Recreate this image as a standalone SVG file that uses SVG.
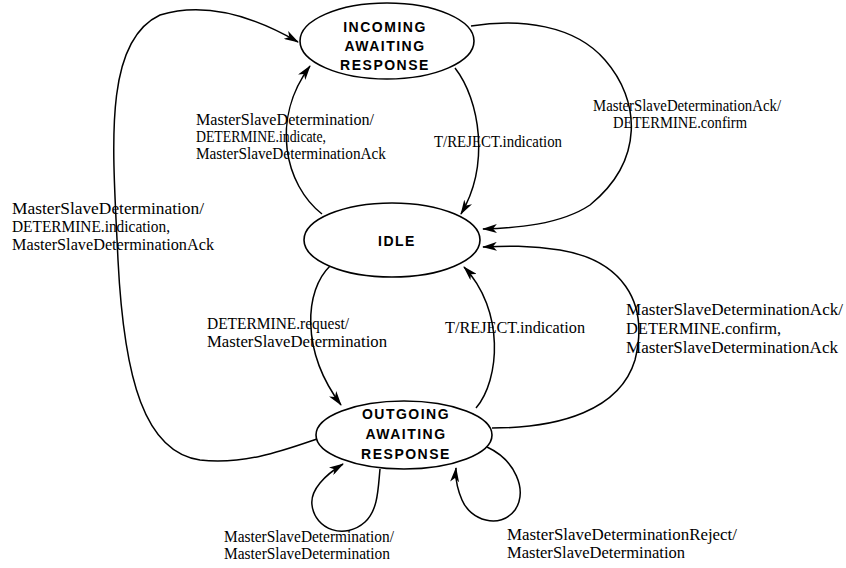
<svg xmlns="http://www.w3.org/2000/svg" width="846" height="568" viewBox="0 0 846 568">
  <defs>
    <marker id="arrow" viewBox="0 0 15 9" refX="14" refY="4.5" markerWidth="15" markerHeight="9" markerUnits="userSpaceOnUse" orient="auto">
      <path d="M0,0 L15,4.5 L0,9 L4,4.5 z" fill="#000"/>
    </marker>
    <style>
      .state { fill: #fff; stroke: #000; stroke-width: 1.6; }
      .sname { font-family: "Liberation Sans", Arial, sans-serif; font-size: 14px; font-weight: bold; letter-spacing: 1.5px; text-anchor: middle; fill: #000; }
      .edge { fill: none; stroke: #000; stroke-width: 1.5; marker-end: url(#arrow); }
      .lbl { font-family: "Liberation Serif", "Times New Roman", serif; font-size: 16px; fill: #000; }
    </style>
  </defs>

  <!-- transitions -->
  <g id="connectors">
    <!-- INCOMING -> IDLE : T/REJECT.indication -->
    <path class="edge" d="M455,68 C480,100 490,165 461,214"/>
    <!-- IDLE -> INCOMING -->
    <path class="edge" d="M322,214 C285,185 270,120 310,66"/>
    <!-- INCOMING -> IDLE : Ack / confirm -->
    <path class="edge" d="M471,26 C520,18 575,25 605,60 C640,100 645,160 590,205 C560,225 515,228 483,229"/>
    <!-- OUTGOING -> IDLE : Ack / confirm, Ack -->
    <path class="edge" d="M492,428 C560,428 620,410 635,360 C650,300 620,260 560,250 C530,245 505,246 483,247"/>
    <!-- IDLE -> OUTGOING : DETERMINE.request -->
    <path class="edge" d="M330,266 C305,290 300,350 341,405"/>
    <!-- OUTGOING -> IDLE : T/REJECT.indication -->
    <path class="edge" d="M476,408 C500,380 505,310 464,267"/>
    <!-- OUTGOING -> INCOMING : outer loop -->
    <path class="edge" d="M317,439 C285,450 245,465 200,460 C145,452 124,380 118,260 C113,150 102,42 160,15 C210,0 260,20 298,42"/>
    <!-- OUTGOING self loop (left) -->
    <path class="edge" d="M380,469 C378,490 378,510 365,522 C345,540 315,530 312,505 C310,490 325,475 343,464"/>
    <!-- OUTGOING self loop (right) -->
    <path class="edge" d="M487,447 C515,460 528,490 515,510 C500,530 470,520 462,500 C457,488 455,478 456,468"/>
  </g>

  <g id="incoming">
    <ellipse class="state" cx="387" cy="41" rx="87" ry="38"/>
    <text class="sname" x="385" y="32">INCOMING</text>
    <text class="sname" x="385" y="51">AWAITING</text>
    <text class="sname" x="385" y="70">RESPONSE</text>
  </g>

  <g id="idle">
    <ellipse class="state" cx="392" cy="240" rx="88" ry="37"/>
    <text class="sname" x="397" y="246">IDLE</text>
  </g>

  <g id="outgoing">
    <ellipse class="state" cx="404" cy="435" rx="88" ry="34"/>
    <text class="sname" x="406" y="419">OUTGOING</text>
    <text class="sname" x="406" y="439">AWAITING</text>
    <text class="sname" x="406" y="459">RESPONSE</text>
  </g>

  <!-- transition labels -->
  <g id="labels">
    <text class="lbl" x="593" y="111" textLength="188" lengthAdjust="spacingAndGlyphs">MasterSlaveDeterminationAck/</text>
    <text class="lbl" x="613" y="128" textLength="134" lengthAdjust="spacingAndGlyphs">DETERMINE.confirm</text>

    <text class="lbl" x="196" y="125" textLength="178" lengthAdjust="spacingAndGlyphs">MasterSlaveDetermination/</text>
    <text class="lbl" x="196" y="142" textLength="130" lengthAdjust="spacingAndGlyphs">DETERMINE.indicate,</text>
    <text class="lbl" x="196" y="159" textLength="190" lengthAdjust="spacingAndGlyphs">MasterSlaveDeterminationAck</text>

    <text class="lbl" x="434" y="147" textLength="128" lengthAdjust="spacingAndGlyphs">T/REJECT.indication</text>

    <text class="lbl" x="12" y="214" textLength="192" lengthAdjust="spacingAndGlyphs">MasterSlaveDetermination/</text>
    <text class="lbl" x="12" y="232" textLength="158" lengthAdjust="spacingAndGlyphs">DETERMINE.indication,</text>
    <text class="lbl" x="12" y="250" textLength="202" lengthAdjust="spacingAndGlyphs">MasterSlaveDeterminationAck</text>

    <text class="lbl" x="207" y="329" textLength="142" lengthAdjust="spacingAndGlyphs">DETERMINE.request/</text>
    <text class="lbl" x="207" y="347" textLength="180" lengthAdjust="spacingAndGlyphs">MasterSlaveDetermination</text>

    <text class="lbl" x="445" y="333" textLength="140" lengthAdjust="spacingAndGlyphs">T/REJECT.indication</text>

    <text class="lbl" x="626" y="315" textLength="217" lengthAdjust="spacingAndGlyphs">MasterSlaveDeterminationAck/</text>
    <text class="lbl" x="626" y="334" textLength="155" lengthAdjust="spacingAndGlyphs">DETERMINE.confirm,</text>
    <text class="lbl" x="626" y="353" textLength="212" lengthAdjust="spacingAndGlyphs">MasterSlaveDeterminationAck</text>

    <text class="lbl" x="224" y="542" textLength="170" lengthAdjust="spacingAndGlyphs">MasterSlaveDetermination/</text>
    <text class="lbl" x="224" y="559" textLength="166" lengthAdjust="spacingAndGlyphs">MasterSlaveDetermination</text>

    <text class="lbl" x="507" y="540" textLength="230" lengthAdjust="spacingAndGlyphs">MasterSlaveDeterminationReject/</text>
    <text class="lbl" x="507" y="558" textLength="178" lengthAdjust="spacingAndGlyphs">MasterSlaveDetermination</text>
  </g>
</svg>
